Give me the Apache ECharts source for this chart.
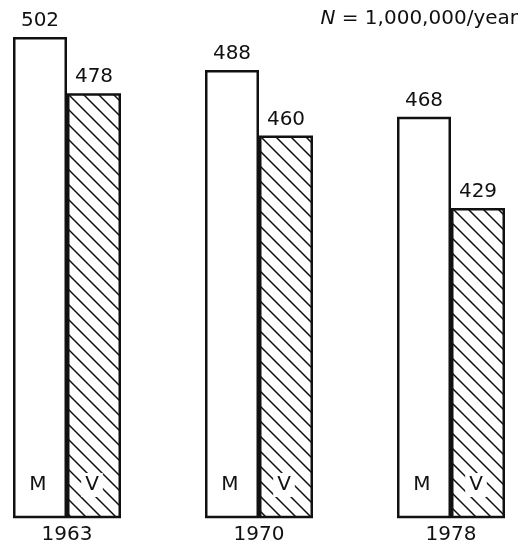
<!DOCTYPE html>
<html>
<head>
<meta charset="utf-8">
<script src="https://cdn.jsdelivr.net/npm/echarts@6/dist/echarts.min.js"></script>
<style>
html,body{margin:0;padding:0;background:#fff;}
#c{width:520px;height:549px;}
</style>
</head>
<body>
<div id="c"></div>
<script>
const years = ['1963', '1970', '1978'];
const mValues = [502, 488, 468];
const vValues = [478, 460, 429];
const groupLetters = ['M', 'V'];
const noteText = '{i|N} = 1,000,000/year';

const FONT = 'DejaVu Sans';

function hatch() {
  const s = 15, c = 11;
  const cv = document.createElement('canvas');
  cv.width = s; cv.height = s;
  const g = cv.getContext('2d');
  g.fillStyle = '#fff';
  g.fillRect(0, 0, s, s);
  g.strokeStyle = '#111';
  g.lineWidth = 1.5;
  g.beginPath();
  for (let k = -2; k <= 2; k++) {
    const off = c + k * s;
    g.moveTo(-3, -3 + off);
    g.lineTo(s + 3, s + 3 + off);
  }
  g.stroke();
  return cv;
}

const chart = echarts.init(document.getElementById('c'), null, {renderer: 'canvas'});
const xBase = {
  type: 'category',
  data: years,
  boundaryGap: false,
  axisLine: {show: false},
  axisTick: {show: false},
  splitLine: {show: false}
};
const barCommon = {
  type: 'bar',
  barWidth: 54,
  barGap: '0%',
  clip: true,
  animation: false
};
chart.setOption({
  backgroundColor: '#fff',
  animation: false,
  title: {
    text: noteText,
    right: 2,
    top: 9,
    padding: 0,
    textStyle: {
      fontFamily: FONT, fontSize: 20, fontWeight: 'normal', color: '#111',
      rich: {i: {fontFamily: FONT, fontSize: 20, fontStyle: 'italic', color: '#111'}}
    }
  },
  grid: {left: 67, right: 69, top: 2, bottom: 32, containLabel: false},
  xAxis: [
    Object.assign({}, xBase, {
      axisLabel: {fontFamily: FONT, fontSize: 20, color: '#111', margin: 8}
    }),
    Object.assign({}, xBase, {show: false})
  ],
  yAxis: {
    type: 'value', min: 297, max: 517, show: false, splitLine: {show: false}
  },
  series: [
    Object.assign({}, barCommon, {
      name: groupLetters[0],
      xAxisIndex: 0,
      data: mValues,
      itemStyle: {color: '#fff', borderColor: '#111', borderWidth: 2.5},
      label: {show: true, position: 'top', distance: 6, formatter: '{c}',
        fontFamily: FONT, fontSize: 20, color: '#111'}
    }),
    Object.assign({}, barCommon, {
      name: groupLetters[1],
      xAxisIndex: 0,
      data: vValues,
      itemStyle: {color: {image: hatch(), repeat: 'repeat'}, borderColor: '#111', borderWidth: 2.5},
      label: {show: true, position: 'top', distance: 6, formatter: '{c}',
        fontFamily: FONT, fontSize: 20, color: '#111'}
    }),
    Object.assign({}, barCommon, {
      name: groupLetters[0] + '-label',
      xAxisIndex: 1,
      data: mValues,
      z: 5,
      silent: true,
      itemStyle: {color: 'rgba(0,0,0,0)', borderWidth: 0},
      label: {show: true, position: 'insideBottom', distance: 22, formatter: groupLetters[0],
        fontFamily: FONT, fontSize: 20, color: '#111', offset: [-2, 0]}
    }),
    Object.assign({}, barCommon, {
      name: groupLetters[1] + '-label',
      xAxisIndex: 1,
      data: vValues,
      z: 5,
      silent: true,
      itemStyle: {color: 'rgba(0,0,0,0)', borderWidth: 0},
      label: {show: true, position: 'insideBottom', distance: 20, formatter: groupLetters[1],
        fontFamily: FONT, fontSize: 20, color: '#111', offset: [-2, 0],
        backgroundColor: '#fff', padding: [2, 4]}
    })
  ]
});
</script>
</body>
</html>
